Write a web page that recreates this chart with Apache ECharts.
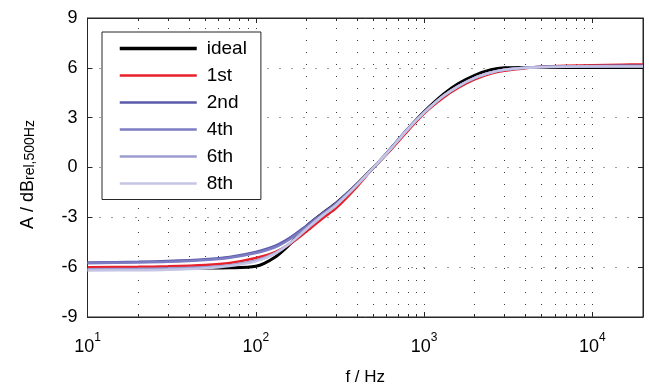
<!DOCTYPE html>
<html>
<head>
<meta charset="utf-8">
<script src="https://cdn.jsdelivr.net/npm/echarts@6/dist/echarts.min.js"></script>
<style>html,body{margin:0;padding:0;background:#fff;}#c{width:649px;height:387px;}</style>
</head>
<body>
<div id="c"></div>
<script>
var freqs = [10,20,30,50,70,100,130,160,200,250,300,400,500,600,800,1000,1300,1600,2000,2500,3000,4000,5000,7000,10000,15000,20000];
var ideal = [-6.05,-6.05,-6.05,-6.05,-6.04,-5.95,-5.4,-4.6,-3.55,-2.75,-2.15,-1.0,0,0.85,2.3,3.35,4.4,5.05,5.55,5.88,6.0,6.02,6.02,6.02,6.02,6.02,6.02];
var first = [-6.0,-5.98,-5.95,-5.87,-5.75,-5.45,-5.1,-4.6,-3.85,-3.05,-2.45,-1.15,0,0.8,2.2,3.25,4.2,4.8,5.3,5.65,5.82,5.98,6.06,6.12,6.16,6.19,6.2];
var second = [-5.72,-5.68,-5.63,-5.52,-5.38,-5.08,-4.72,-4.22,-3.5,-2.75,-2.15,-0.98,0,0.87,2.32,3.32,4.3,4.9,5.4,5.72,5.88,6.0,6.06,6.09,6.11,6.12,6.12];
var fourth = [-5.76,-5.72,-5.68,-5.57,-5.43,-5.15,-4.8,-4.3,-3.58,-2.8,-2.2,-1.0,0,0.86,2.31,3.31,4.3,4.9,5.4,5.72,5.88,6.0,6.05,6.08,6.1,6.11,6.11];
var sixth = [-6.12,-6.1,-6.07,-6.0,-5.88,-5.6,-5.15,-4.55,-3.72,-2.9,-2.28,-1.05,0,0.85,2.3,3.3,4.3,4.9,5.4,5.72,5.88,6.0,6.05,6.08,6.1,6.1,6.1];
var eighth = [-6.2,-6.18,-6.15,-6.06,-5.93,-5.65,-5.2,-4.55,-3.7,-2.88,-2.27,-1.05,0,0.85,2.3,3.3,4.3,4.9,5.4,5.72,5.88,6.0,6.04,6.07,6.08,6.08,6.08];
var seriesNames = ['ideal','1st','2nd','4th','6th','8th'];
var seriesColors = ['#000000','#e8202a','#5a5aaa','#7c7cc2','#9c9cd0','#c4c4e4'];
var seriesWidths = [3,2.5,2.5,2.5,2.5,2.5];
var majorX = [100,1000,10000];
var minorX = [20,30,40,50,60,70,80,90,200,300,400,500,600,700,800,900,2000,3000,4000,5000,6000,7000,8000,9000];
var yMin = -9, yMax = 9, yStep = 3;

var dataSets = [ideal, first, second, fourth, sixth, eighth];
var FONT = 'Liberation Sans, Arial, sans-serif';
var gridDot = {color:'#3a3a3a', width:1, type:[1,11]};

var series = dataSets.map(function(arr, i){
  return {
    name: seriesNames[i], type:'line', smooth:0.3, symbol:'none',
    data: freqs.map(function(f,k){ return [f, arr[k]]; }),
    lineStyle:{color:seriesColors[i], width:seriesWidths[i]},
    itemStyle:{color:seriesColors[i]},
    z: 5+i
  };
});
var gridLines = minorX.concat(majorX).map(function(v){ return {xAxis:v}; });
var tickLen = 0.18;
var minorTickSegs = [];
minorX.forEach(function(v){
  minorTickSegs.push([{coord:[v,yMin]},{coord:[v,yMin+tickLen]}]);
  minorTickSegs.push([{coord:[v,yMax]},{coord:[v,yMax-tickLen]}]);
});
series.unshift({
  name:'_grid', type:'line', data:[], symbol:'none', silent:true, z:1,
  markLine:{silent:true, symbol:['none','none'], label:{show:false}, animation:false,
    lineStyle:gridDot, data:gridLines}
});
series.unshift({
  name:'_ticks', type:'line', data:[], symbol:'none', silent:true, z:1,
  markLine:{silent:true, symbol:['none','none'], label:{show:false}, animation:false,
    lineStyle:{color:'#262626', width:1, type:'solid'}, data:minorTickSegs}
});

var legendData = seriesNames.map(function(n, i){
  return {name:n, lineStyle:{width: i === 0 ? 3.5 : 2.5, color:seriesColors[i]}};
});

var chart = echarts.init(document.getElementById('c'), null, {renderer:'canvas'});
chart.setOption({
  animation:false,
  backgroundColor:'#fff',
  textStyle:{fontFamily:FONT},
  grid:{left:87.5, top:18, right:6, bottom:70, containLabel:false, outerBoundsMode:'none',
        show:true, borderColor:'#262626', borderWidth:1, backgroundColor:'#fff'},
  legend:{
    data:legendData, orient:'vertical', left:102, top:32,
    backgroundColor:'#fff', borderColor:'#262626', borderWidth:1, borderRadius:0,
    padding:[7,14,6.5,16], itemWidth:77, itemHeight:19, itemGap:8,
    itemStyle:{opacity:0},
    textStyle:{fontSize:19, color:'#000', fontFamily:FONT, lineHeight:19, padding:[0,0,0,5]},
    selectedMode:false, z:20
  },
  xAxis:[{
    type:'log', logBase:10, min:10, max:20000, position:'bottom',
    name:'f / Hz', nameLocation:'middle', nameGap:52,
    nameTextStyle:{fontSize:17, color:'#000', fontFamily:FONT},
    axisLine:{onZero:false, lineStyle:{color:'#262626', width:1}},
    axisTick:{inside:true, length:5, lineStyle:{color:'#262626'}},
    splitLine:{show:false},
    axisLabel:{margin:15, color:'#000', showMaxLabel:false,
      formatter:function(v){ return '{b|10}{s|' + Math.round(Math.log10(v)) + '}'; },
      rich:{b:{fontSize:18, lineHeight:24, verticalAlign:'bottom', fontFamily:FONT, color:'#000'},
            s:{fontSize:12, lineHeight:12, verticalAlign:'top', fontFamily:FONT, color:'#000'}}}
  },{
    type:'log', logBase:10, min:10, max:20000, position:'top',
    axisLine:{onZero:false, lineStyle:{color:'#262626', width:1}},
    axisTick:{inside:true, length:5, lineStyle:{color:'#262626'}},
    axisLabel:{show:false}, splitLine:{show:false}
  }],
  yAxis:[{
    type:'value', min:yMin, max:yMax, interval:yStep, position:'left',
    name:'{m|A / dB}{sub|rel,500Hz}', nameLocation:'middle', nameGap:50, nameRotate:90,
    nameTextStyle:{color:'#000', padding:[0,14,0,0], rich:{
      m:{fontSize:18, lineHeight:18, verticalAlign:'top', fontFamily:FONT, color:'#000'},
      sub:{fontSize:14, lineHeight:15, padding:[14,0,0,0], verticalAlign:'bottom', fontFamily:FONT, color:'#000'}}},
    axisLine:{onZero:false, lineStyle:{color:'#262626', width:1}},
    axisTick:{inside:true, length:5, lineStyle:{color:'#262626'}},
    axisLabel:{fontSize:18, color:'#000', margin:10, fontFamily:FONT},
    splitLine:{show:true, lineStyle:gridDot}
  },{
    type:'value', min:yMin, max:yMax, interval:yStep, position:'right',
    axisLine:{show:true, onZero:false, lineStyle:{color:'#262626', width:1}},
    axisTick:{show:true, inside:true, length:5, lineStyle:{color:'#262626'}},
    axisLabel:{show:false}, splitLine:{show:false}
  }],
  series: series
});
</script>
</body>
</html>
